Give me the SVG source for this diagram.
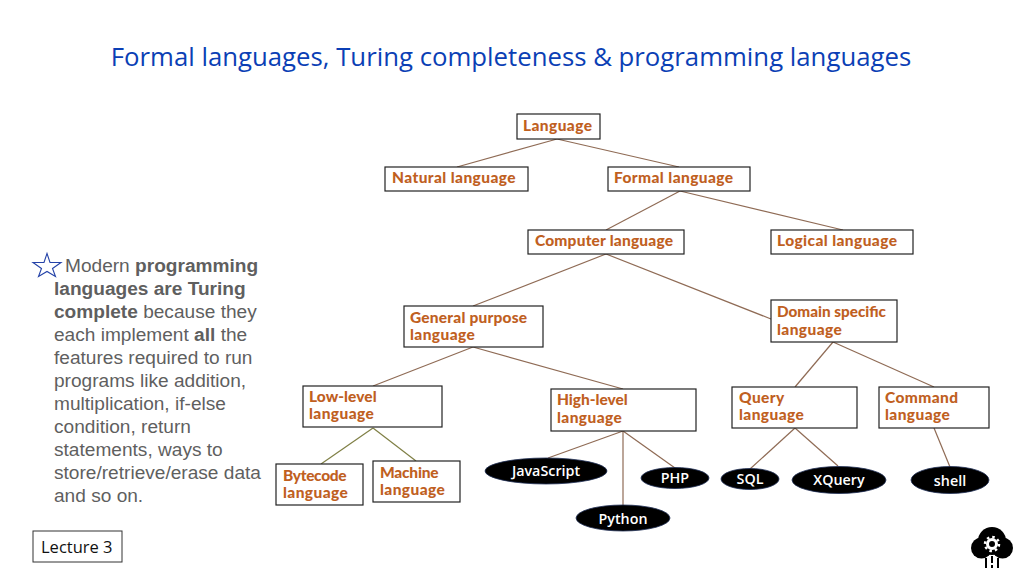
<svg xmlns="http://www.w3.org/2000/svg" width="1024" height="576" viewBox="0 0 1024 576">
<style>
.box{fill:#fff;stroke:#222;stroke-width:1.2}
.lbl{font-family:"Lato","Liberation Sans",sans-serif;font-weight:900;font-size:15.500px;letter-spacing:.4px;fill:#c0601f}
.tight{letter-spacing:0}
.ell{fill:#000;stroke:#1f2f55;stroke-width:.8}
.el{font-family:"Open Sans","Liberation Sans",sans-serif;font-weight:600;font-size:14.300px;fill:#fff;text-anchor:middle}
.c line{stroke:#8f6b55;stroke-width:1.2}
.c line.o{stroke:#7f7f45}
.body{font-family:"Liberation Sans",Arial,sans-serif;font-size:19.100px;fill:#5f5f5f}
.body tspan.b{font-weight:700}
</style>
<rect width="1024" height="576" fill="#fff"/>
<text id="title" x="511" y="66" text-anchor="middle" font-family="'Open Sans','Noto Sans',sans-serif" font-size="25.760" fill="#0b3fb5">Formal languages, Turing completeness &amp; programming languages</text>
<g id="connectors" class="c">
<line x1="557" y1="139" x2="457" y2="167"/><line x1="557" y1="139" x2="679" y2="167"/>
<line x1="680" y1="191" x2="606" y2="230"/><line x1="680" y1="191" x2="843" y2="230"/>
<line x1="606" y1="254" x2="473" y2="306"/><line x1="606" y1="254" x2="771" y2="319"/>
<line x1="473" y1="347" x2="373" y2="386"/><line x1="473" y1="347" x2="623" y2="389"/>
<line class="o" x1="373" y1="428" x2="321" y2="464"/><line class="o" x1="373" y1="428" x2="416" y2="461"/>
<line x1="623" y1="431" x2="548" y2="458"/><line x1="623" y1="431" x2="623" y2="505"/><line x1="623" y1="431" x2="675" y2="468"/>
<line x1="833" y1="342" x2="795" y2="387"/><line x1="833" y1="342" x2="934" y2="387"/>
<line x1="795" y1="428" x2="750" y2="469"/><line x1="795" y1="428" x2="838" y2="466"/>
<line x1="934" y1="428" x2="950" y2="467"/>
</g>
<g id="n-language"><rect class="box" x="517" y="114" width="83" height="25"/><text class="lbl" x="523" y="131">Language</text></g>
<g id="n-natural"><rect class="box" x="385" y="167" width="143" height="24"/><text class="lbl" x="392" y="183">Natural language</text></g>
<g id="n-formal"><rect class="box" x="608" y="167" width="142" height="24"/><text class="lbl" x="614" y="183">Formal language</text></g>
<g id="n-computer"><rect class="box" x="528" y="230" width="156" height="24"/><text class="lbl tight" x="535" y="246" textLength="138" lengthAdjust="spacing">Computer language</text></g>
<g id="n-logical"><rect class="box" x="771" y="230" width="142" height="24"/><text class="lbl" x="777" y="246">Logical language</text></g>
<g id="n-general"><rect class="box" x="404" y="306" width="139" height="41"/><text class="lbl tight" x="410" y="323" textLength="117" lengthAdjust="spacing">General purpose</text><text class="lbl" x="410" y="340">language</text></g>
<g id="n-domain"><rect class="box" x="771" y="300" width="126" height="42"/><text class="lbl tight" x="777" y="317" textLength="109" lengthAdjust="spacingAndGlyphs">Domain specific</text><text class="lbl" x="777" y="335">language</text></g>
<g id="n-low"><rect class="box" x="303" y="386" width="139" height="41"/><text class="lbl" x="309" y="402" textLength="68" lengthAdjust="spacing">Low-level</text><text class="lbl" x="309" y="419">language</text></g>
<g id="n-high"><rect class="box" x="551" y="389" width="145" height="42"/><text class="lbl" x="557" y="405" textLength="71" lengthAdjust="spacing">High-level</text><text class="lbl" x="557" y="423">language</text></g>
<g id="n-query"><rect class="box" x="732" y="387" width="125" height="41"/><text class="lbl" x="739" y="403">Query</text><text class="lbl" x="739" y="420">language</text></g>
<g id="n-command"><rect class="box" x="879" y="387" width="110" height="41"/><text class="lbl" x="885" y="403">Command</text><text class="lbl" x="885" y="420">language</text></g>
<g id="n-bytecode"><rect class="box" x="276" y="464" width="87" height="41"/><text class="lbl" x="283" y="481" textLength="64" lengthAdjust="spacing">Bytecode</text><text class="lbl" x="283" y="498">language</text></g>
<g id="n-machine"><rect class="box" x="373" y="461" width="87" height="41"/><text class="lbl" x="380" y="478" textLength="59" lengthAdjust="spacing">Machine</text><text class="lbl" x="380" y="495">language</text></g>
<g id="n-js"><ellipse class="ell" cx="546" cy="471" rx="61" ry="13"/><text class="el" x="546" y="476">JavaScript</text></g>
<g id="n-php"><ellipse class="ell" cx="675" cy="478" rx="34" ry="10.500"/><text class="el" x="675" y="483">PHP</text></g>
<g id="n-python"><ellipse class="ell" cx="623" cy="518" rx="47" ry="13"/><text class="el" x="623" y="524">Python</text></g>
<g id="n-sql"><ellipse class="ell" cx="750" cy="479" rx="29" ry="10.500"/><text class="el" x="750" y="484">SQL</text></g>
<g id="n-xquery"><ellipse class="ell" cx="839" cy="480" rx="47" ry="13.500"/><text class="el" x="839" y="485">XQuery</text></g>
<g id="n-shell"><ellipse class="ell" cx="950" cy="480" rx="39" ry="13.500"/><text class="el" x="950" y="486">shell</text></g>
<polygon id="star" points="47,253.500 50,262.500 61,262.500 52.500,268.500 55.500,276.500 47,271.500 38.500,276.500 41.500,268.500 33,262.500 44,262.500" fill="#fff" stroke="#2543a8" stroke-width="1.1"/>
<text id="body" class="body">
<tspan x="65" y="272">Modern <tspan class="b">programming</tspan></tspan>
<tspan x="54" y="295" class="b">languages are Turing</tspan>
<tspan x="54" y="318"><tspan class="b">complete</tspan> because they</tspan>
<tspan x="54" y="341">each implement <tspan class="b">all</tspan> the</tspan>
<tspan x="54" y="364">features required to run</tspan>
<tspan x="54" y="387">programs like addition,</tspan>
<tspan x="54" y="410">multiplication, if-else</tspan>
<tspan x="54" y="433">condition, return</tspan>
<tspan x="54" y="456">statements, ways to</tspan>
<tspan x="54" y="479">store/retrieve/erase data</tspan>
<tspan x="54" y="502">and so on.</tspan>
</text>
<g id="lecture"><rect x="33" y="531" width="89" height="31" fill="#fff" stroke="#333" stroke-width="1"/><text x="41" y="553" font-family="'Open Sans','Noto Sans',sans-serif" font-size="16.500" fill="#111">Lecture 3</text></g>
<g id="icon">
<circle cx="992" cy="541" r="14" fill="#000"/><circle cx="981.500" cy="548" r="10.500" fill="#000"/><circle cx="1002.500" cy="548" r="10.500" fill="#000"/>
<circle cx="992" cy="544" r="4.500" fill="none" stroke="#fff" stroke-width="3"/><circle cx="992" cy="544" r="7" fill="none" stroke="#fff" stroke-width="2.500" stroke-dasharray="2.500 2.998"/>
<path d="M986 558v10M998 558v10M992 556v7M992 565v3" stroke="#000" stroke-width="2" fill="none"/>
</g>
</svg>
